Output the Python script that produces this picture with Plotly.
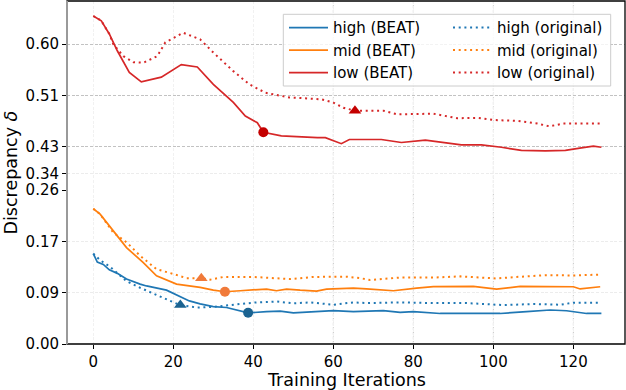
import plotly.graph_objects as go

# ---------------- data ----------------
HIGH_BEAT_X = [0, 1, 2.5, 4, 6, 8.3, 11.7, 13.3, 18.3, 20, 22, 24, 26.7, 30, 33.3, 35, 38.7, 43.3, 46.7, 50,
               55.8, 60, 65, 72.5, 76.7, 80, 86.7, 93.3, 101.7, 108.3, 114.2, 118.3, 123.3, 127]
HIGH_BEAT_Y = [0.151, 0.137, 0.133, 0.124, 0.118, 0.1085, 0.100, 0.097, 0.090, 0.085, 0.078, 0.072, 0.067, 0.0625,
               0.061, 0.058, 0.052, 0.054, 0.055, 0.052, 0.054, 0.0556, 0.054, 0.0556, 0.0529, 0.054, 0.051, 0.051,
               0.051, 0.054, 0.0568, 0.0556, 0.051, 0.051]

HIGH_ORIG_X = [0, 1.7, 4.2, 8.3, 11.7, 15.8, 16.7, 19.2, 21.75, 25.8, 30, 31.7, 36.7, 40.8, 45.8, 50, 54.2, 60, 65,
               68.3, 76.7, 85, 93.3, 102.5, 110, 116.7, 120, 126.7]
HIGH_ORIG_Y = [0.151, 0.140, 0.129, 0.105, 0.094, 0.082, 0.078, 0.072, 0.065, 0.061, 0.062, 0.0635, 0.0668, 0.0695,
               0.071, 0.068, 0.0695, 0.0656, 0.0695, 0.0684, 0.0695, 0.0684, 0.0684, 0.065, 0.0668, 0.0656, 0.069, 0.069]

MID_BEAT_X = [0, 1.7, 5, 8.3, 12.5, 15.8, 20.8, 26.7, 30, 32.9, 36.7, 43.3, 45.8, 48.3, 51.7, 55.8, 58.3, 65, 68.3,
              75, 80.8, 85, 95, 100.8, 106.7, 114.2, 120, 121.7, 126.7]
MID_BEAT_Y = [0.226, 0.217, 0.189, 0.161, 0.136, 0.114, 0.100, 0.0945, 0.090, 0.0873, 0.089, 0.0918, 0.089, 0.0918,
              0.090, 0.0885, 0.0918, 0.0935, 0.092, 0.089, 0.0935, 0.0957, 0.0962, 0.0918, 0.0962, 0.096, 0.0957,
              0.092, 0.0957]

MID_ORIG_X = [0, 1.7, 5, 8.3, 11.7, 15.8, 20, 23.3, 27, 29.2, 32.5, 40, 49.2, 55, 59.2, 63.3, 66.7, 69.2, 76.7, 85,
              91.7, 100.8, 105.8, 113.3, 120, 126.7]
MID_ORIG_Y = [0.226, 0.217, 0.186, 0.170, 0.1475, 0.125, 0.117, 0.110, 0.110, 0.1075, 0.112, 0.112, 0.1085, 0.112,
              0.1123, 0.1125, 0.110, 0.107, 0.111, 0.111, 0.113, 0.1095, 0.112, 0.115, 0.1145, 0.116]

LOW_BEAT_X = [0, 2, 4, 6, 9, 12, 17, 22, 26, 30, 35, 38, 41, 42.5, 47, 52, 56, 58, 62, 64, 72, 77, 83, 92, 97, 102,
              107, 113, 118, 122, 125, 127]
LOW_BEAT_Y = [0.647, 0.639, 0.617, 0.589, 0.553, 0.537, 0.545, 0.566, 0.562, 0.533, 0.503, 0.480, 0.469, 0.453,
              0.447, 0.445, 0.444, 0.444, 0.434, 0.441, 0.441, 0.436, 0.440, 0.432, 0.432, 0.428, 0.423, 0.422,
              0.423, 0.427, 0.430, 0.428]

LOW_ORIG_X = [0, 2, 4, 5, 7.5, 10, 12.5, 16, 18, 22.5, 26.7, 30, 35, 39, 43, 49, 52, 57, 60, 62.5, 65.4, 68, 72.5,
              76, 81, 85, 91, 96, 100, 106, 111, 114, 117.5, 122.5, 127]
LOW_ORIG_Y = [0.647, 0.639, 0.617, 0.600, 0.580, 0.570, 0.569, 0.580, 0.603, 0.619, 0.608, 0.586, 0.555, 0.533,
              0.519, 0.511, 0.510, 0.508, 0.5025, 0.494, 0.489, 0.489, 0.489, 0.483, 0.484, 0.484, 0.4765, 0.477,
              0.4735, 0.472, 0.4675, 0.463, 0.4675, 0.468, 0.4675]

# highlighted points: (circle on BEAT, triangle on original)
HIGH_MARK = {"circle": (38.7, 0.0523), "triangle": (21.75, 0.065)}
MID_MARK = {"circle": (32.9, 0.0873), "triangle": (27, 0.110)}
LOW_MARK = {"circle": (42.5, 0.453), "triangle": (65.4, 0.489)}

X_TICKS = [0, 20, 40, 60, 80, 100, 120]
Y_TICKS = [i * 0.6 / 7 for i in range(8)]
Y_LABELS = [f"{v:.2f}" for v in Y_TICKS]

# ---------------- styling ----------------
BLUE, ORANGE, RED = "#1f77b4", "#ff7f0e", "#d62728"
MARK_COL = {"high": "#1b6391", "mid": "#f07a3a", "low": "#c40000"}
FONT = "DejaVu Sans"
DOT = "2px,3.7px"
GRID_DASH = "3px,1.6px"

# broken (piecewise) y scale: three stacked linear axes
BREAK_LO = Y_TICKS[3]
BREAK_HI = 0.404
Y_TOP = 0.672
h_low = BREAK_LO * 599
h_mid = (BREAK_HI - BREAK_LO) * 193.7
h_top = (Y_TOP - BREAK_HI) * 600
H = h_low + h_mid + h_top
d1 = h_low / H
d2 = (h_low + h_mid) / H

fig = go.Figure()

series = [
    ("high (BEAT)", HIGH_BEAT_X, HIGH_BEAT_Y, BLUE, None, "y", "legend"),
    ("mid (BEAT)", MID_BEAT_X, MID_BEAT_Y, ORANGE, None, "y", "legend"),
    ("low (BEAT)", LOW_BEAT_X, LOW_BEAT_Y, RED, None, "y3", "legend"),
    ("high (original)", HIGH_ORIG_X, HIGH_ORIG_Y, BLUE, DOT, "y", "legend2"),
    ("mid (original)", MID_ORIG_X, MID_ORIG_Y, ORANGE, DOT, "y", "legend2"),
    ("low (original)", LOW_ORIG_X, LOW_ORIG_Y, RED, DOT, "y3", "legend2"),
]
for name, xs, ys, col, dash, yax, leg in series:
    fig.add_trace(go.Scatter(
        x=xs, y=ys, mode="lines", name=name, yaxis=yax, legend=leg,
        line=dict(color=col, width=2 if dash else 1.7, dash=dash if dash else "solid"),
    ))

# empty trace so the middle (compressed) band exists as a subplot
fig.add_trace(go.Scatter(x=[], y=[], yaxis="y2", showlegend=False, hoverinfo="skip"))

for key, marks, yax in [("high", HIGH_MARK, "y"), ("mid", MID_MARK, "y"), ("low", LOW_MARK, "y3")]:
    for sym, (mx, my) in marks.items():
        fig.add_trace(go.Scatter(
            x=[mx], y=[my], mode="markers", yaxis=yax, showlegend=False,
            marker=dict(symbol="circle" if sym == "circle" else "triangle-up",
                        size=10 if sym == "circle" else 11, color=MARK_COL[key], line=dict(width=0)),
        ))

tickfont = dict(family=FONT, size=15, color="black")
common_y = dict(ticks="outside", ticklen=4, tickwidth=1.2, tickcolor="black", tickfont=tickfont,
                showline=False, zeroline=False, tickmode="array", anchor="x", griddash=GRID_DASH, gridwidth=1,
                automargin=False)

fig.update_layout(
    width=626, height=390,
    margin=dict(l=67, r=1, t=1, b=46),
    plot_bgcolor="white", paper_bgcolor="white",
    font=dict(family=FONT, size=15, color="black"),
    xaxis=dict(range=[-6.575, 132.9], tickmode="array", tickvals=X_TICKS, ticks="outside", ticklen=4,
               tickwidth=1.2, tickcolor="black", tickfont=tickfont, showline=False, zeroline=False,
               showgrid=True, gridcolor="#f1f1f1", griddash=GRID_DASH, anchor="y", automargin=False),
    yaxis=dict(domain=[0, d1], range=[0, BREAK_LO], tickvals=Y_TICKS[:4], ticktext=Y_LABELS[:4],
               showgrid=True, gridcolor="#ececec", **common_y),
    yaxis2=dict(domain=[d1, d2], range=[BREAK_LO, BREAK_HI], tickvals=Y_TICKS[4:5], ticktext=Y_LABELS[4:5],
                showgrid=True, gridcolor="#ececec", **common_y),
    yaxis3=dict(domain=[d2, 1], range=[BREAK_HI, Y_TOP], tickvals=Y_TICKS[5:], ticktext=Y_LABELS[5:],
                showgrid=True, gridcolor="#c2c2c2", **common_y),
    legend=dict(x=(284 - 67) / 558, xanchor="left", y=0.970, yanchor="top", bgcolor="rgba(0,0,0,0)",
                borderwidth=0, itemwidth=39, font=dict(family=FONT, size=15, color="black"),
                traceorder="normal"),
    legend2=dict(x=(448 - 67) / 558, xanchor="left", y=0.970, yanchor="top", bgcolor="rgba(0,0,0,0)",
                 borderwidth=0, itemwidth=39, font=dict(family=FONT, size=15, color="black"),
                 traceorder="normal"),
    showlegend=True,
)

# darker dashed vertical grid lines on the right part of the plot
for gx in X_TICKS[3:]:
    fig.add_shape(type="line", xref="x", yref="paper", x0=gx, x1=gx, y0=0, y1=1,
                  line=dict(color="#c6c6c6", width=1, dash=GRID_DASH), layer="below")

# frame
fig.add_shape(type="rect", xref="paper", yref="paper", x0=0, x1=1, y0=0, y1=1,
              line=dict(color="black", width=1.3), layer="above")
fig.add_shape(type="line", xref="paper", yref="paper", x0=0, x1=0, y0=0, y1=1,
              line=dict(color="#9a9a9a", width=2), layer="above")

# legend box
fig.add_shape(type="rect", xref="paper", yref="paper",
              x0=(283.3 - 67) / 558, x1=(610.7 - 67) / 558,
              y0=1 - (86 - 1) / 343, y1=1 - (14.3 - 1) / 343,
              line=dict(color="#cccccc", width=1), fillcolor="rgba(255,255,255,0.8)", layer="above")

fig.add_annotation(text="Training Iterations", xref="paper", yref="paper", x=0.5, y=1 - (380 - 1) / 343,
                   xanchor="center", yanchor="middle", showarrow=False,
                   font=dict(family=FONT, size=17.5, color="black"))
fig.add_annotation(text="Discrepancy <i>δ</i>", xref="paper", yref="paper", x=(10 - 67) / 558, y=0.5,
                   xanchor="center", yanchor="middle", showarrow=False, textangle=-90,
                   font=dict(family=FONT, size=17.5, color="black"))

fig.write_html("out.html", config={"displayModeBar": False},
               post_script="document.body.style.margin='0px';")
